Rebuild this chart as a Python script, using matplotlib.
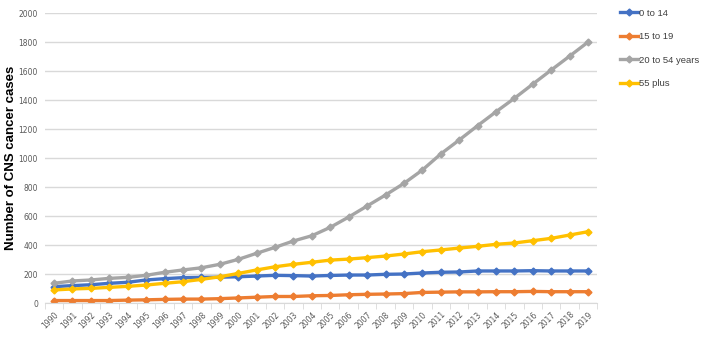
import numpy as np
import matplotlib.pyplot as plt

years = [str(y) for y in range(1990, 2020)]

age_0_14 = [113, 120, 126, 136, 143, 159, 168, 175, 177, 178, 181, 186, 191, 189, 186, 190, 193,
            193, 198, 200, 207, 212, 214, 221, 221, 221, 223, 221, 221, 221]
age_15_19 = [17, 17, 17, 17, 20, 22, 25, 27, 27, 30, 35, 40, 45, 45, 50, 52, 57,
             60, 62, 65, 73, 75, 77, 77, 78, 78, 80, 78, 78, 78]
age_20_54 = [136, 152, 159, 170, 177, 191, 212, 228, 243, 267, 301, 343, 384, 428, 464, 522, 593,
             669, 745, 825, 917, 1028, 1124, 1223, 1319, 1412, 1510, 1607, 1703, 1800]
age_55 = [90, 97, 101, 108, 115, 124, 136, 147, 163, 181, 204, 228, 250, 267, 281, 296, 303,
          313, 324, 338, 354, 366, 379, 391, 405, 414, 430, 446, 469, 492]

series = [("0 to 14", age_0_14, "#4472C4"),
          ("15 to 19", age_15_19, "#ED7D31"),
          ("20 to 54 years", age_20_54, "#A5A5A5"),
          ("55 plus", age_55, "#FFC000")]

fig = plt.figure(figsize=(7.01, 3.53), dpi=100)
ax = fig.add_axes([0.064, 0.1416, 0.788, 0.8214])

x = np.arange(len(years))
for name, vals, col in series:
    ax.plot(x, vals, color=col, lw=2.4, marker="D", ms=3.5, label=name)

ax.set_xlim(-0.5, len(years) - 0.5)
ax.set_ylim(0, 2000)
ax.set_yticks(range(0, 2001, 200))
ax.set_xticks(x)
ax.set_xticklabels(years, rotation=45, ha="right", rotation_mode="anchor")
ax.set_xticks(np.arange(-0.5, len(years)), minor=True)
ax.tick_params(axis="x", which="major", length=0, pad=5, labelsize=5.5, labelcolor="#595959")
ax.tick_params(axis="x", which="minor", length=4, color="#D9D9D9")
ax.tick_params(axis="y", length=0, labelsize=5.5, labelcolor="#595959", pad=5)

ax.grid(axis="y", color="#D9D9D9", lw=1)
ax.set_axisbelow(True)
for s in ["top", "right", "left"]:
    ax.spines[s].set_visible(False)
ax.spines["bottom"].set_color("#D9D9D9")

ax.set_ylabel("Number of CNS cancer cases", fontsize=9.5, fontweight="bold",
              family=["Liberation Sans", "DejaVu Sans"])
ax.yaxis.set_label_coords(-0.05, 0.5)

leg = ax.legend(loc="upper left", bbox_to_anchor=(1.025, 1.045), frameon=False,
                handlelength=2.0, handletextpad=0.1, labelspacing=1.55,
                prop={"size": 6.8, "family": ["Liberation Sans", "DejaVu Sans"]})
for t in leg.get_texts():
    t.set_color("#404040")

fig.savefig("out.png", dpi=100)
